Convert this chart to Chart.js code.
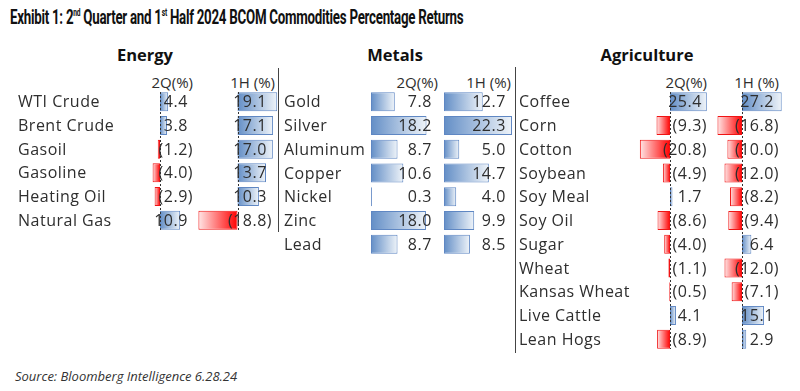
<!DOCTYPE html>
<html>
<head>
<meta charset="utf-8">
<script src="https://cdn.jsdelivr.net/npm/chart.js@4.4.1/dist/chart.umd.min.js"></script>
<style>
  body { margin: 0; width: 800px; height: 391px; background: #fff; position: relative; overflow: hidden; font-family: "Open Sans", sans-serif; color: #2e2e2e; }
  .t { position: absolute; white-space: nowrap; line-height: 1; }
  #title { left: 10px; top: 7px; font-family: Roboto, sans-serif; font-weight: 700; font-size: 20px; color: #111; transform-origin: 0 0; letter-spacing: -0.4px; }
  #title sup { font-size: 10px; vertical-align: 8px; line-height: 0; }
  .sec { font-weight: 700; font-size: 16.5px; color: #111; top: 47px; transform: translateX(-50%); }
  .hdr { font-size: 15px; top: 75px; }
  .vline { position: absolute; width: 1px; background: #444; }
  canvas { position: absolute; }
  #src { left: 15px; top: 370px; font-style: italic; font-size: 13px; color: #333; }
</style>
</head>
<body>
<div id="title" class="t">Exhibit 1: 2<sup>nd</sup> Quarter and 1<sup>st</sup> Half 2024 BCOM Commodities Percentage Returns</div>

<div class="t sec" style="left:145px">Energy</div>
<div class="t sec" style="left:395px">Metals</div>
<div class="t sec" style="left:647px">Agriculture</div>

<div class="t hdr" style="right:calc(800px - 193px)">2Q(%)</div>
<div class="t hdr" style="right:calc(800px - 275px)">1H (%)</div>
<div class="t hdr" style="right:calc(800px - 438px)">2Q(%)</div>
<div class="t hdr" style="right:calc(800px - 511px)">1H (%)</div>
<div class="t hdr" style="right:calc(800px - 707px)">2Q(%)</div>
<div class="t hdr" style="right:calc(800px - 779px)">1H (%)</div>

<canvas id="energy" width="279" height="142" style="left:0px;top:90px"></canvas>
<canvas id="metals" width="236" height="166" style="left:279px;top:90px"></canvas>
<canvas id="agri" width="285" height="261" style="left:515px;top:90px"></canvas>

<div class="vline" style="left:278px;top:68px;height:164px"></div>
<div class="vline" style="left:515px;top:67px;height:286px"></div>

<div id="src" class="t">Source: Bloomberg Intelligence 6.28.24</div>

<script>
const energyNames = ["WTI Crude", "Brent Crude", "Gasoil", "Gasoline", "Heating Oil", "Natural Gas"];
const energyQ2 = [4.4, 3.8, -1.2, -4.0, -2.9, 10.9];
const energyH1 = [19.1, 17.1, 17.0, 13.7, 10.3, -18.8];

const metalsNames = ["Gold", "Silver", "Aluminum", "Copper", "Nickel", "Zinc", "Lead"];
const metalsQ2 = [7.8, 18.2, 8.7, 10.6, 0.3, 18.0, 8.7];
const metalsH1 = [12.7, 22.3, 5.0, 14.7, 4.0, 9.9, 8.5];

const agriNames = ["Coffee", "Corn", "Cotton", "Soybean", "Soy Meal", "Soy Oil", "Sugar", "Wheat", "Kansas Wheat", "Live Cattle", "Lean Hogs"];
const agriQ2 = [25.4, -9.3, -20.8, -4.9, 1.7, -8.6, -4.0, -1.1, -0.5, 4.1, -8.9];
const agriH1 = [27.2, -16.8, -10.0, -12.0, -8.2, -9.4, 6.4, -12.0, -7.1, 15.1, 2.9];

// title is set in a condensed face in the original; squeeze ours to the same width
const title = document.getElementById("title");
title.style.transform = "scaleX(" + (453 / title.offsetWidth) + ")";

// page coordinates of each block: where the canvas sits, where zero falls, px per 1%, right edge of the numbers
const sections = [
  { canvas: "energy", names: energyNames, series: [energyQ2, energyH1], left: 0, width: 279, plotLeft: 140, nameX: 18, zeroLine: true,
    cols: [{ zero: 160, ppu: 1.85, right: 193 }, { zero: 237.5, ppu: 2.08, right: 272 }] },
  { canvas: "metals", names: metalsNames, series: [metalsQ2, metalsH1], left: 279, width: 236, plotLeft: 365, nameX: 284, zeroLine: false,
    cols: [{ zero: 371, ppu: 3.05, right: 437 }, { zero: 444, ppu: 3.05, right: 511 }] },
  { canvas: "agri", names: agriNames, series: [agriQ2, agriH1], left: 515, width: 285, plotLeft: 630, nameX: 519, zeroLine: true,
    cols: [{ zero: 670, ppu: 1.45, right: 707 }, { zero: 742, ppu: 1.46, right: 779 }] },
];

const BLUE = [99, 142, 198];
const RED = [255, 0, 0];

function mixWhite(c, t) {
  return "rgb(" + c.map((v) => Math.round(v + (255 - v) * t)).join(",") + ")";
}

function barFill(axisId) {
  return function (ctx) {
    const v = ctx.raw;
    const base = v < 0 ? RED : BLUE;
    const chart = ctx.chart;
    const scale = chart.scales[axisId];
    if (!scale || !chart.chartArea) return mixWhite(base, 0.3);
    const x0 = scale.getPixelForValue(0);
    const x1 = scale.getPixelForValue(v);
    if (Math.abs(x1 - x0) < 1) return mixWhite(base, 0);
    const g = chart.ctx.createLinearGradient(x0, 0, x1, 0);
    g.addColorStop(0, mixWhite(base, 0));
    g.addColorStop(1, mixWhite(base, 0.9));
    return g;
  };
}

function fmt(v) {
  return v < 0 ? "(" + Math.abs(v).toFixed(1) + ")" : v.toFixed(1);
}

function tablePlugin(sec) {
  return {
    id: "table_" + sec.canvas,
    afterDatasetsDraw(chart) {
      const ctx = chart.ctx;
      const y = chart.scales.y;
      const area = chart.chartArea;
      ctx.save();
      if (sec.zeroLine) {
        ctx.strokeStyle = "#333";
        ctx.lineWidth = 1;
        ctx.setLineDash([2, 2]);
        sec.cols.forEach((c, k) => {
          const x = Math.round(chart.scales["x" + k].getPixelForValue(0)) + 0.5;
          ctx.beginPath();
          ctx.moveTo(x, area.top + 2);
          ctx.lineTo(x, area.bottom - 2);
          ctx.stroke();
        });
        ctx.setLineDash([]);
      }
      ctx.fillStyle = "#2e2e2e";
      ctx.textBaseline = "middle";
      ctx.font = '16px "Open Sans"';
      ctx.letterSpacing = "0.5px";
      const paren = ctx.measureText(")").width;
      sec.names.forEach((name, i) => {
        const py = y.getPixelForValue(i) + 1;
        ctx.textAlign = "left";
        ctx.fillText(name, sec.nameX - sec.left, py);
        ctx.textAlign = "right";
        sec.series.forEach((arr, k) => {
          const v = arr[i];
          let rx = sec.cols[k].right - sec.left;
          if (v >= 0) rx -= paren;
          ctx.fillText(fmt(v), rx, py);
        });
      });
      ctx.restore();
    },
  };
}

sections.forEach((sec) => {
  const plotRight = sec.left + sec.width;
  const scales = {
    y: { type: "category", display: false, offset: true, grid: { display: false } },
  };
  sec.cols.forEach((c, k) => {
    scales["x" + k] = {
      type: "linear",
      display: false,
      min: (sec.plotLeft - c.zero) / c.ppu,
      max: (plotRight - c.zero) / c.ppu,
    };
  });

  new Chart(document.getElementById(sec.canvas), {
    type: "bar",
    data: {
      labels: sec.names,
      datasets: sec.series.map((arr, k) => ({
        data: arr,
        xAxisID: "x" + k,
        grouped: false,
        barPercentage: 0.8,
        categoryPercentage: 1,
        backgroundColor: barFill("x" + k),
        borderColor: (ctx) => (ctx.raw < 0 ? "rgb(240,20,20)" : "rgb(95,135,195)"),
        borderWidth: 1,
        borderSkipped: false,
      })),
    },
    options: {
      indexAxis: "y",
      responsive: false,
      animation: false,
      devicePixelRatio: 1,
      layout: { padding: { left: sec.plotLeft - sec.left, right: 0, top: 0, bottom: 0 } },
      scales,
      plugins: { legend: { display: false }, tooltip: { enabled: false } },
    },
    plugins: [tablePlugin(sec)],
  });
});
</script>
</body>
</html>
